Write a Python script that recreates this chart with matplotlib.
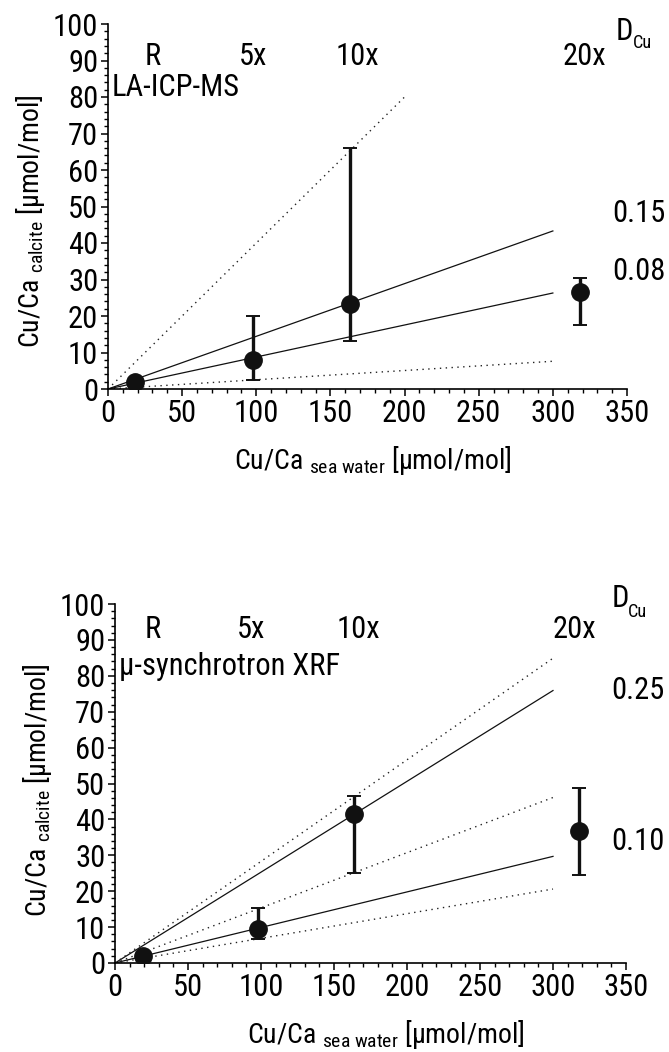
import matplotlib
matplotlib.use("Agg")
import matplotlib.pyplot as plt
from matplotlib.ticker import MultipleLocator
from matplotlib import font_manager

names = sorted({f.name for f in font_manager.fontManager.ttflist})
prefs = ['Liberation Sans Narrow', 'Arial Narrow', 'Roboto Condensed', 'Open Sans Condensed']
narrow = [n for n in prefs if n in names] + [n for n in names if 'Narrow' in n or 'Condensed' in n]
FAM = narrow[0] if narrow else 'Liberation Sans'

plt.rcParams['font.family'] = [FAM, 'Liberation Sans', 'DejaVu Sans']
plt.rcParams['mathtext.fontset'] = 'custom'
plt.rcParams['mathtext.rm'] = FAM
plt.rcParams['mathtext.it'] = FAM

# ---------------- data ----------------
treatments = ["R", "5x", "10x", "20x"]

# LA-ICP-MS panel
la_x = [18.5, 97.5, 163.5, 318.5]
la_y = [2.0, 8.0, 23.2, 26.7]
la_hi = [2.6, 19.9, 66.0, 30.4]
la_lo = [1.4, 2.5, 13.1, 17.4]
la_solid_end = [43.3, 26.3]        # y at x=300
la_dotted_x = [200, 300]
la_dotted_end = [80.0, 7.6]
la_d_labels = ["0.15", "0.08"]
la_d_pos = [48.0, 32.3]

# synchrotron XRF panel
xrf_x = [19.3, 98.0, 164.0, 318.0]
xrf_y = [1.9, 9.6, 41.5, 36.8]
xrf_hi = [2.5, 15.3, 46.6, 48.7]
xrf_lo = [1.3, 6.7, 25.0, 24.6]
xrf_solid_end = [75.9, 29.7]
xrf_dotted_x = [300, 300, 300]
xrf_dotted_end = [84.9, 46.1, 20.6]
xrf_d_labels = ["0.25", "0.10"]
xrf_d_pos = [75.9, 33.9]

label_x_top = [30, 98, 168, 321]
label_x_bot = [26, 93, 167, 315]

fig = plt.figure(figsize=(6.69, 10.52), dpi=100)
ax1 = fig.add_axes([108/669, 1-389/1052, 519/669, 365/1052])
ax2 = fig.add_axes([115/669, 1-963/1052, 511/669, 359/1052])

FS = 22 if narrow else 19
LFS = 20 if narrow else 18

def style(ax, xl_x, yl_y):
    ax.set_xlim(0, 350)
    ax.set_ylim(0, 100)
    for s in ['top', 'right']:
        ax.spines[s].set_visible(False)
    for s in ['left', 'bottom']:
        ax.spines[s].set_linewidth(1.2)
    ax.xaxis.set_major_locator(MultipleLocator(50))
    ax.xaxis.set_minor_locator(MultipleLocator(10))
    ax.yaxis.set_major_locator(MultipleLocator(10))
    ax.yaxis.set_minor_locator(MultipleLocator(2))
    ax.tick_params(which='major', length=5, width=1.1, labelsize=FS, pad=2)
    ax.tick_params(which='minor', length=2.8, width=1.0)
    ax.set_xlabel(r'Cu/Ca $_{\mathregular{sea\ water}}$ [μmol/mol]', fontsize=LFS, labelpad=12)
    ax.set_ylabel(r'Cu/Ca $_{\mathregular{calcite}}$ [μmol/mol]', fontsize=LFS, labelpad=4)
    ax.xaxis.label.set_x(xl_x)
    ax.yaxis.label.set_y(yl_y)

def panel(ax, xs, ys, hi, lo, solid_end, dx, dend, dlabels, dpos, title, lx, ly, dxy, cuxy, xl_x, yl_y):
    style(ax, xl_x, yl_y)
    for e in solid_end:
        ax.plot([0, 300], [0, e], color='#111111', lw=0.9, zorder=2)
    for x1, e in zip(dx, dend):
        ax.plot([0, x1], [0, e], color='#222222', lw=1.0, ls=(0, (1, 3.2)), zorder=2)
    yerr = [[y - l for y, l in zip(ys, lo)], [h - y for y, h in zip(ys, hi)]]
    ax.errorbar(xs, ys, yerr=yerr, fmt='o', color='#111111', ms=12.5,
                elinewidth=2.4, capsize=5, capthick=1.4, ecolor='#111111', zorder=3)
    for t, x in zip(treatments, lx):
        ax.text(x, ly, t, fontsize=FS, ha='center', va='center', clip_on=False)
    ax.text(2.5, 82.5, title, fontsize=FS, ha='left', va='center')
    for t, y in zip(dlabels, dpos):
        ax.text(340, y, t, fontsize=FS, ha='left', va='center', clip_on=False)
    ax.text(dxy[0], dxy[1], 'D', fontsize=FS, ha='left', va='center', clip_on=False)
    ax.text(cuxy[0], cuxy[1], 'Cu', fontsize=FS * 0.6, ha='left', va='center', clip_on=False)

panel(ax1, la_x, la_y, la_hi, la_lo, la_solid_end, la_dotted_x, la_dotted_end,
      la_d_labels, la_d_pos, "LA-ICP-MS", label_x_top, 91, (342.5, 98.0), (354, 94.8), 0.51, 0.46)
panel(ax2, xrf_x, xrf_y, xrf_hi, xrf_lo, xrf_solid_end, xrf_dotted_x, xrf_dotted_end,
      xrf_d_labels, xrf_d_pos, "μ-synchrotron XRF", label_x_bot, 92.8, (340, 101.5), (351.5, 97.8), 0.53, 0.48)

fig.savefig("out.png", dpi=100)
